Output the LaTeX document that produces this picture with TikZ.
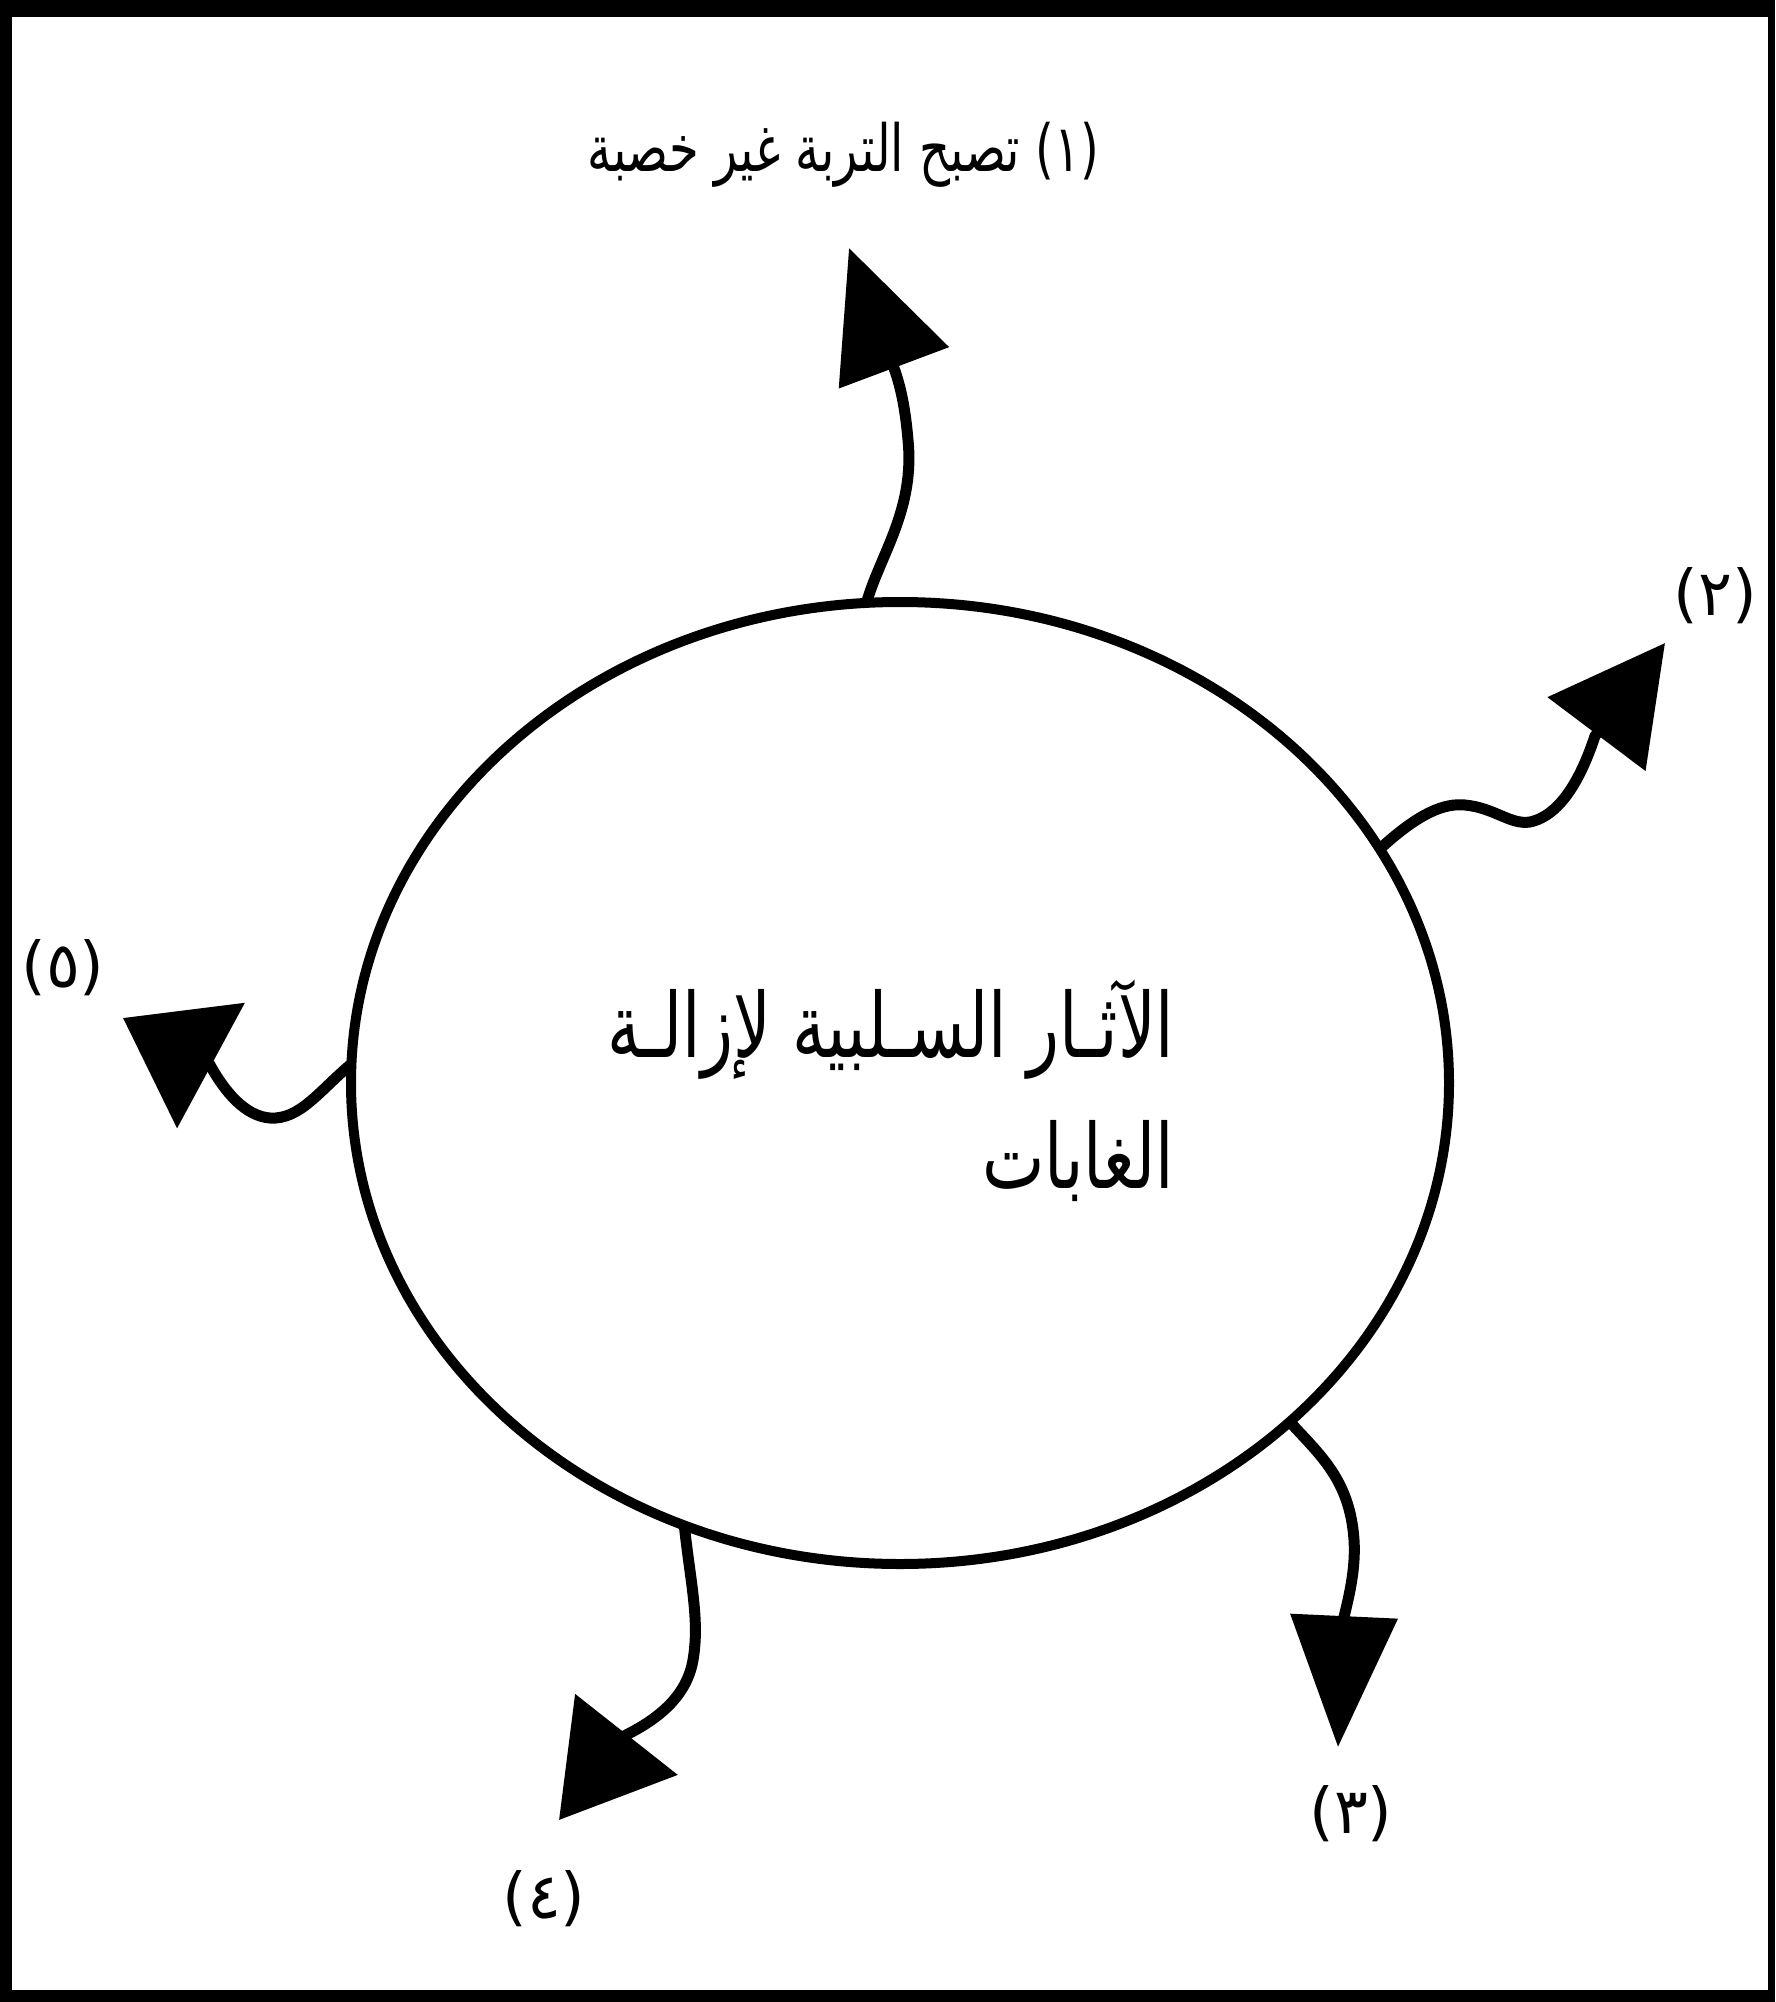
\documentclass[tikz,border=0pt]{standalone}
\usepackage{fontspec}
\newfontfamily\arabicfont[Script=Arabic]{DejaVu Sans}
\newfontfamily\arabicnarrow[Script=Arabic,FakeStretch=0.74]{DejaVu Sans}
\TeXXeTstate=1
\usetikzlibrary{shapes.geometric,arrows.meta}
\newcommand\bigarfont{\arabicnarrow\fontsize{25.5}{30}\selectfont}
\newcommand\midarfont{\arabicnarrow\fontsize{18.5}{22}\selectfont}
\newcommand\smallarfont{\arabicfont\fontsize{18}{22}\selectfont}
\begin{document}
\begin{tikzpicture}[x=0.1mm,y=-0.1mm,
  shaft/.style={line width=1.1mm, black, line cap=butt},
  bubble/.style={draw, ellipse, line width=1.0mm, minimum width=109.8mm, minimum height=96.2mm, inner sep=0pt, outer sep=0pt},
  maintext/.style={font=\bigarfont, inner sep=0pt, anchor=base east},
  lbl/.style={font=\smallarfont, inner sep=0pt}]
\useasboundingbox (0,0) rectangle (1775,2002);
% frame
\fill[black] (0,0) rectangle (1775,2002);
\fill[white] (12,17) rectangle (1768,1990);
% central ellipse
\node[bubble] (E) at (900,1083) {};
\node[maintext] (T1) at (1175,1057) {\beginR الآثـار السـلبية لإزالـة\endR};
\node[maintext] (T2) at (1175,1188) {\beginR الغابات\endR};
% arrow tips (free ends)
\coordinate (t1) at (849,248);
\coordinate (t2) at (1665,643);
\coordinate (t3) at (1338,1747);
\coordinate (t4) at (559,1820);
\coordinate (t5) at (123,1018);
% connectors
\draw[shaft,-{Triangle[length=12.8mm,width=11.5mm]}] (E.94.4)
  .. controls (880,555) and (915,510) .. (908,440)
  .. controls (905,405) and (900,385) .. (894,368) -- (t1);
\draw[shaft,-{Triangle[length=11.4mm,width=12.0mm]}] (E.26.5)
  .. controls (1420,812) and (1445,803) .. (1465,805)
  .. controls (1495,808) and (1510,825) .. (1530,822)
  .. controls (1562,815) and (1582,775) .. (1595,736) -- (t2);
\draw[shaft,-{Triangle[length=13.1mm,width=10.5mm]}] (E.-41.1)
  .. controls (1320,1455) and (1350,1480) .. (1354,1540)
  .. controls (1356,1570) and (1348,1600) .. (1344,1617) -- (t3);
\draw[shaft,-{Triangle[length=10.9mm,width=12.8mm]}] (E.244.7)
  .. controls (690,1580) and (700,1620) .. (693,1660)
  .. controls (687,1695) and (660,1718) .. (626,1735) -- (t4);
\draw[shaft,-{Triangle[length=10.0mm,width=14.0mm]}] (E.178.9)
  .. controls (320,1090) and (300,1120) .. (270,1118)
  .. controls (245,1116) and (225,1092) .. (210,1065) -- (t5);
% labels
\node[font=\midarfont, inner sep=0pt, anchor=base] (L1) at (843,172) {\beginR تصبح التربة غير خصبة\endR\ (١)};
\node[lbl] (L2) at (1715,596) {(٢)};
\node[lbl] (L3) at (1351,1814) {(٣)};
\node[lbl] (L4) at (544,1899) {(٤)};
\node[lbl] (L5) at (63,968) {(٥)};
\end{tikzpicture}
\end{document}
